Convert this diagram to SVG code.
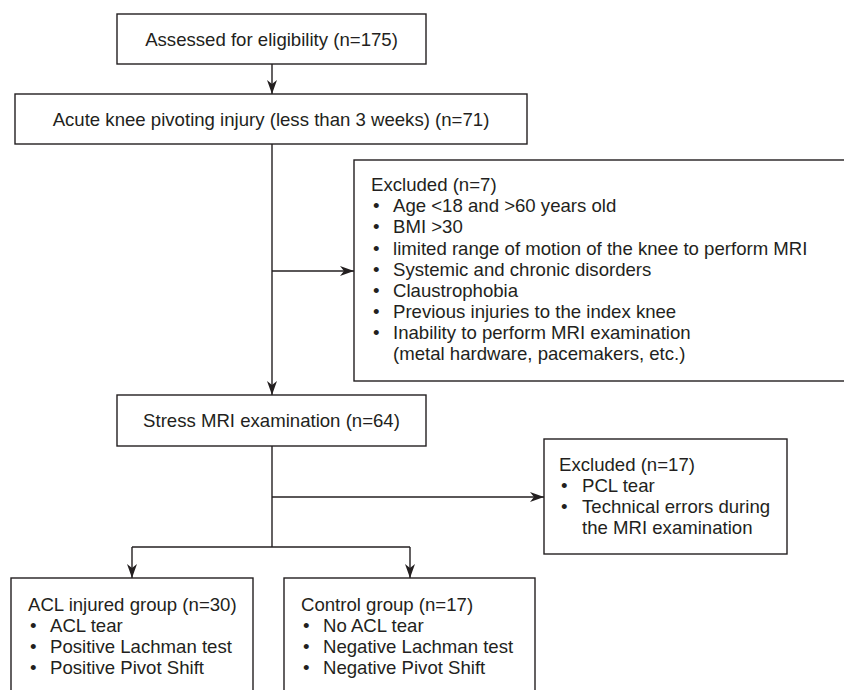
<svg xmlns="http://www.w3.org/2000/svg" width="844" height="690" viewBox="0 0 844 690">
<style>
.box{fill:#ffffff;stroke:#231f20;stroke-width:1.4}
.t{font-family:"Liberation Sans",Arial,sans-serif;font-size:18.6px;fill:#231f20}
.c{text-anchor:middle}
.ln{fill:none;stroke:#231f20;stroke-width:1.4}
</style>
<defs>
<marker id="ah" markerUnits="userSpaceOnUse" markerWidth="15" markerHeight="11" refX="14" refY="5" orient="auto" viewBox="0 0 15 11">
<path d="M0,0 L14,5 L0,10 L4,5 z" fill="#231f20"/>
</marker>
</defs>
<rect x="0" y="0" width="844" height="690" fill="#ffffff"/>
<g id="connectors">
<path class="ln" d="M272,64 V94" marker-end="url(#ah)"/>
<path class="ln" d="M272,144 V395" marker-end="url(#ah)"/>
<path class="ln" d="M272,271 H354" marker-end="url(#ah)"/>
<path class="ln" d="M272,446 V547"/>
<path class="ln" d="M272,497 H544" marker-end="url(#ah)"/>
<path class="ln" d="M132,547 H410"/>
<path class="ln" d="M132,547 V578" marker-end="url(#ah)"/>
<path class="ln" d="M410,547 V578" marker-end="url(#ah)"/>
</g>
<g id="assessed">
<rect class="box" x="117" y="14" width="309" height="50"/>
<text class="t c" x="271.5" y="46">Assessed for eligibility (n=175)</text>
</g>
<g id="acute">
<rect class="box" x="15" y="94" width="512" height="50"/>
<text class="t c" x="271" y="125.5">Acute knee pivoting injury (less than 3 weeks) (n=71)</text>
</g>
<g id="excluded1">
<rect class="box" x="354" y="160" width="500" height="221"/>
<text class="t" x="371" y="191">Excluded (n=7)</text>
<text class="t" x="373" y="212">•</text><text class="t" x="393" y="212">Age &lt;18 and &gt;60 years old</text>
<text class="t" x="373" y="233">•</text><text class="t" x="393" y="233">BMI &gt;30</text>
<text class="t" x="373" y="255">•</text><text class="t" x="393" y="255">limited range of motion of the knee to perform MRI</text>
<text class="t" x="373" y="276">•</text><text class="t" x="393" y="276">Systemic and chronic disorders</text>
<text class="t" x="373" y="297">•</text><text class="t" x="393" y="297">Claustrophobia</text>
<text class="t" x="373" y="318">•</text><text class="t" x="393" y="318">Previous injuries to the index knee</text>
<text class="t" x="373" y="339">•</text><text class="t" x="393" y="339">Inability to perform MRI examination</text>
<text class="t" x="393" y="360">(metal hardware, pacemakers, etc.)</text>
</g>
<g id="stress">
<rect class="box" x="117" y="395" width="309" height="51"/>
<text class="t c" x="271.5" y="427">Stress MRI examination (n=64)</text>
</g>
<g id="excluded2">
<rect class="box" x="544" y="439" width="243" height="115"/>
<text class="t" x="559" y="471">Excluded (n=17)</text>
<text class="t" x="561" y="492">•</text><text class="t" x="582" y="492">PCL tear</text>
<text class="t" x="561" y="513">•</text><text class="t" x="582" y="513">Technical errors during</text>
<text class="t" x="582" y="534">the MRI examination</text>
</g>
<g id="acl">
<rect class="box" x="11" y="578" width="242" height="130"/>
<text class="t" x="28" y="611">ACL injured group (n=30)</text>
<text class="t" x="30" y="632">•</text><text class="t" x="50" y="632">ACL tear</text>
<text class="t" x="30" y="653">•</text><text class="t" x="50" y="653">Positive Lachman test</text>
<text class="t" x="30" y="674">•</text><text class="t" x="50" y="674">Positive Pivot Shift</text>
</g>
<g id="control">
<rect class="box" x="284" y="578" width="251" height="130"/>
<text class="t" x="301" y="611">Control group (n=17)</text>
<text class="t" x="303" y="632">•</text><text class="t" x="323" y="632">No ACL tear</text>
<text class="t" x="303" y="653">•</text><text class="t" x="323" y="653">Negative Lachman test</text>
<text class="t" x="303" y="674">•</text><text class="t" x="323" y="674">Negative Pivot Shift</text>
</g>
</svg>
